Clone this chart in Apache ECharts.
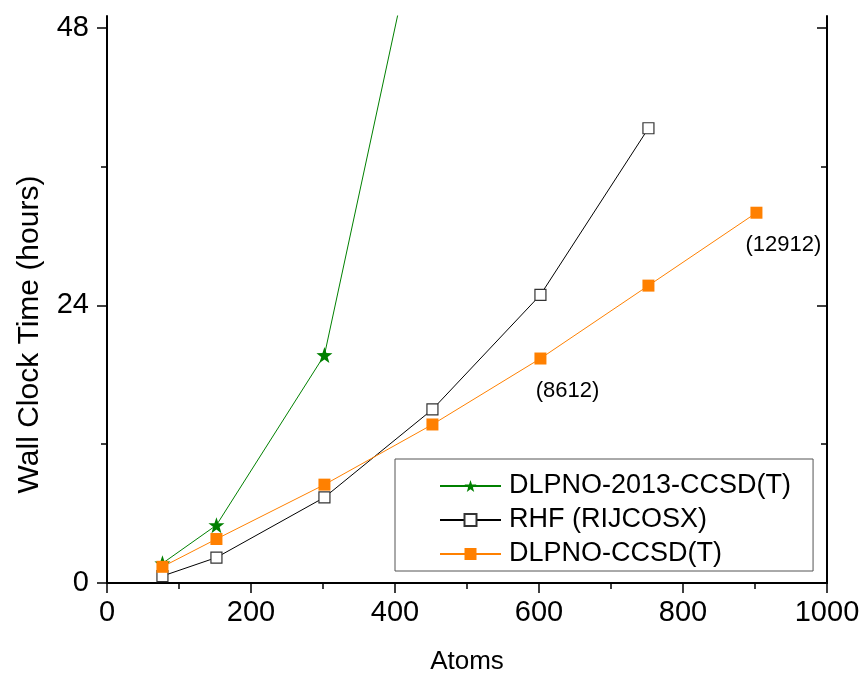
<!DOCTYPE html>
<html>
<head>
<meta charset="utf-8">
<script src="https://cdn.jsdelivr.net/npm/echarts@6/dist/echarts.min.js"></script>
<style>
  html, body { margin: 0; padding: 0; background: #fff; }
  #chart { width: 861px; height: 673px; }
</style>
</head>
<body>
<div id="chart"></div>
<script>
// 横轴: 原子数
var atoms = [77, 152, 302, 452, 602, 752, 902];
// 各方法耗时 (小时)
var dlpno2013 = [1.7, 5.0, 19.7, 63];
var rhf = [0.6, 2.2, 7.4, 15.0, 24.9, 39.3];
var dlpno = [1.4, 3.8, 8.5, 13.7, 19.4, 25.7, 32.0];
// 标注 (基函数数目)
var noteIndex = [4, 6];
var noteText = ['(8612)', '(12912)'];
// 纵轴刻度
var yMajor = [0, 24, 48];
var yMinor = [12, 36];
var seriesNames = ['DLPNO-2013-CCSD(T)', 'RHF (RIJCOSX)', 'DLPNO-CCSD(T)'];

var FONT = 'Liberation Sans';
var STAR = 'path://M50 0 L61.76 33.82 L97.55 34.55 L69.02 56.18 L79.39 90.45 L50 70 L20.61 90.45 L30.98 56.18 L2.45 34.55 L38.24 33.82 Z';

function pairs(ys) {
  return ys.map(function (y, i) { return [atoms[i], y]; });
}

var dlpnoData = pairs(dlpno).map(function (p, i) {
  var k = noteIndex.indexOf(i);
  if (k < 0) return p;
  return {
    value: p,
    label: {
      show: true,
      formatter: noteText[k],
      position: 'inside',
      offset: [27, 32],
      color: '#000',
      fontSize: 22,
      fontFamily: FONT
    }
  };
});

var chart = echarts.init(document.getElementById('chart'));

var axisLineStyle = { color: '#000', width: 2 };
var tickStyle = { color: '#000', width: 1.5 };

var option = {
  animation: false,
  grid: { left: 107, right: 34, top: 16, bottom: 90, outerBoundsMode: 'none' },
  legend: {
    data: seriesNames,
    orient: 'vertical',
    left: 395,
    top: 459,
    padding: [12, 22, 2, 44],
    itemGap: 4,
    itemWidth: 61,
    itemHeight: 15,
    borderColor: '#555',
    borderWidth: 1,
    textStyle: { fontSize: 27, fontFamily: FONT, color: '#000', lineHeight: 30, padding: [0, 0, 0, 3] }
  },
  xAxis: [
    {
      type: 'value', min: 0, max: 1000, interval: 200,
      name: 'Atoms', nameLocation: 'middle', nameGap: 66,
      nameTextStyle: { fontSize: 26, fontFamily: FONT, color: '#000' },
      axisLine: { lineStyle: axisLineStyle },
      axisTick: { inside: false, length: 10, lineStyle: tickStyle },
      minorTick: { show: true, splitNumber: 2, length: 5, lineStyle: tickStyle },
      axisLabel: {
        fontSize: 29, fontFamily: FONT, color: '#000', margin: 15,
        formatter: function (v) { return String(v); }
      },
      splitLine: { show: false }
    },
    {
      type: 'value', position: 'top', min: 0, max: 1000, interval: 200,
      axisLine: { lineStyle: axisLineStyle },
      axisTick: { inside: true, length: 10, lineStyle: tickStyle },
      minorTick: { show: true, splitNumber: 2, length: 6, lineStyle: tickStyle },
      axisLabel: { show: false },
      splitLine: { show: false }
    }
  ],
  yAxis: [
    {
      type: 'value', min: 0, max: 49,
      name: 'Wall Clock Time (hours)', nameLocation: 'middle', nameGap: 62,
      nameTextStyle: { fontSize: 30, fontFamily: FONT, color: '#000', padding: [0, 70, 0, 0] },
      axisLine: { lineStyle: axisLineStyle },
      axisTick: { inside: false, length: 10, customValues: yMajor, lineStyle: tickStyle },
      axisLabel: { customValues: yMajor, fontSize: 29, fontFamily: FONT, color: '#000', margin: 18 },
      splitLine: { show: false }
    },
    {
      // 左侧次刻度
      type: 'value', position: 'left', min: 0, max: 49,
      axisLine: { show: false },
      axisTick: { inside: false, length: 6, customValues: yMinor, lineStyle: tickStyle },
      axisLabel: { show: false },
      splitLine: { show: false }
    },
    {
      type: 'value', position: 'right', min: 0, max: 49,
      axisLine: { lineStyle: axisLineStyle },
      axisTick: { inside: true, length: 10, customValues: yMajor, lineStyle: tickStyle },
      axisLabel: { show: false },
      splitLine: { show: false }
    },
    {
      // 右侧次刻度
      type: 'value', position: 'right', min: 0, max: 49,
      axisLine: { show: false },
      axisTick: { inside: true, length: 6, customValues: yMinor, lineStyle: tickStyle },
      axisLabel: { show: false },
      splitLine: { show: false }
    }
  ],
  series: [
    {
      name: seriesNames[0], type: 'line', clip: true,
      data: pairs(dlpno2013),
      symbol: STAR, symbolSize: 16,
      lineStyle: { color: '#008000', width: 1 },
      itemStyle: { color: '#008000' }
    },
    {
      name: seriesNames[1], type: 'line', clip: true,
      data: pairs(rhf),
      symbol: 'rect', symbolSize: 11,
      lineStyle: { color: '#000', width: 1 },
      itemStyle: { color: '#fff', borderColor: '#333', borderWidth: 1.2 }
    },
    {
      name: seriesNames[2], type: 'line', clip: true,
      data: dlpnoData,
      symbol: 'rect', symbolSize: 12,
      lineStyle: { color: '#ff8000', width: 1 },
      itemStyle: { color: '#ff8000' }
    }
  ]
};

chart.setOption(option);
</script>
</body>
</html>
